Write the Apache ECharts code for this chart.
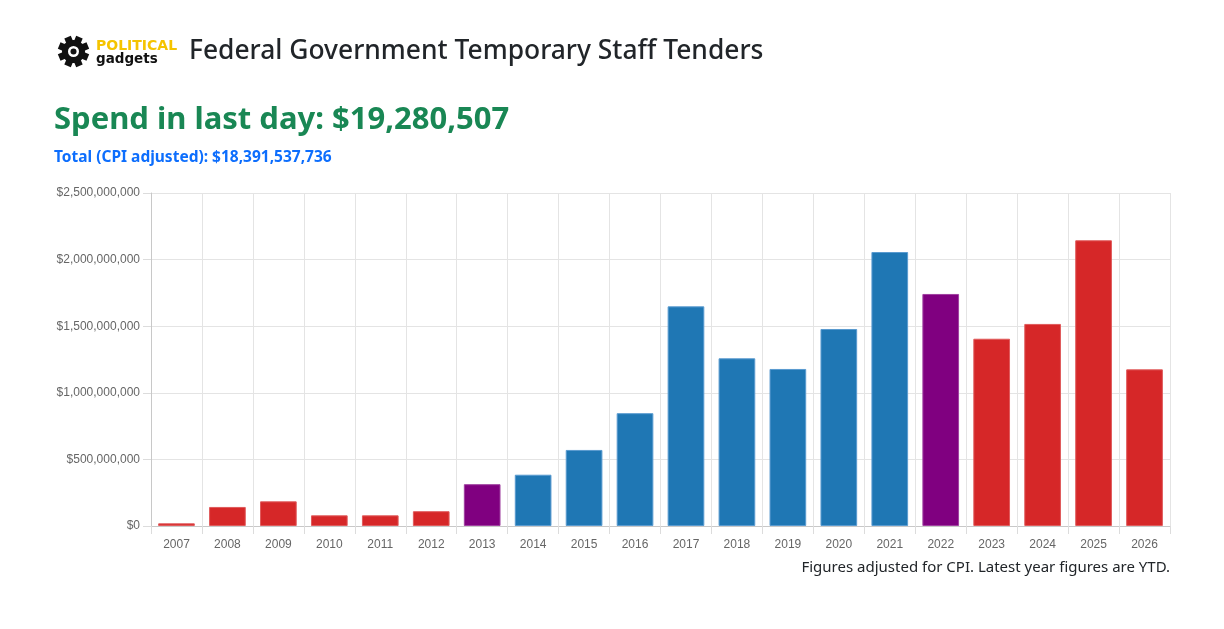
<!DOCTYPE html>
<html>
<head>
<meta charset="utf-8">
<script src="https://cdn.jsdelivr.net/npm/echarts@6/dist/echarts.min.js"></script>
<style>
html,body{margin:0;padding:0;background:#fff;}
#chart{width:1224px;height:629px;}
</style>
</head>
<body>
<div id="chart"></div>
<script>
const years = ['2007','2008','2009','2010','2011','2012','2013','2014','2015','2016','2017','2018','2019','2020','2021','2022','2023','2024','2025','2026'];
const spend = [20000000,143000000,185000000,80000000,80000000,111000000,314000000,385000000,571000000,847000000,1649000000,1259000000,1179000000,1479000000,2057000000,1742000000,1406000000,1517000000,2145000000,1176000000];
const party = ['R','R','R','R','R','R','T','L','L','L','L','L','L','L','L','T','R','R','R','R'];
const yTicks = [0,500000000,1000000000,1500000000,2000000000,2500000000];

const fills = {R:'#d62728', L:'#1f77b4', T:'#800080'};
const borders = {R:'#e05a5b', L:'#5a9bd0', T:'#a040a0'};

function money(v){ return '$' + Math.round(v).toLocaleString('en-US'); }

const chart = echarts.init(document.getElementById('chart'), null, {renderer:'canvas'});

const teeth = [];
for (let i = 0; i < 8; i++) {
  teeth.push({
    type:'rect', x:-3.5, y:-15.5, shape:{x:0,y:0,width:7,height:7},
    originX:3.5, originY:15.5, rotation: i*Math.PI/4 + Math.PI/8,
    style:{fill:'#111'}
  });
}

chart.setOption({
  animation:false,
  grid:{left:151, right:54, top:193, bottom:103, containLabel:false},
  xAxis:{
    type:'category', data:years, boundaryGap:true,
    axisLine:{lineStyle:{color:'#c8c8c8'}},
    axisTick:{show:true, length:8, lineStyle:{color:'#dcdcdc'}},
    splitLine:{show:true, lineStyle:{color:'#e4e4e4'}},
    axisLabel:{color:'#666', fontFamily:'Liberation Sans, Arial', fontSize:12, margin:13}
  },
  yAxis:{
    type:'value', min:yTicks[0], max:yTicks[yTicks.length-1], interval:yTicks[1]-yTicks[0],
    axisLine:{show:true, lineStyle:{color:'#c8c8c8'}},
    axisTick:{show:true, length:8, lineStyle:{color:'#dcdcdc'}},
    splitLine:{show:true, lineStyle:{color:'#e4e4e4'}},
    axisLabel:{color:'#666', fontFamily:'Liberation Sans, Arial', fontSize:12, margin:11, formatter:money}
  },
  series:[{
    type:'bar', barWidth:'72%',
    data: spend.map((v,i)=>({value:v, itemStyle:{color:fills[party[i]], borderColor:borders[party[i]], borderWidth:1}}))
  }],
  graphic:[
    {type:'group', x:73.5, y:51.5, children: teeth.concat([
      {type:'circle', shape:{cx:0,cy:0,r:11.5}, style:{fill:'#111'}},
      {type:'circle', shape:{cx:0,cy:0,r:5.5}, style:{fill:'#fff'}},
      {type:'circle', shape:{cx:0,cy:0,r:3}, style:{fill:'#111'}}
    ])},
    {type:'text', left:96, top:39, style:{text:'POLITICAL', fill:'#f5c400', font:'bold 14px "DejaVu Sans", sans-serif'}},
    {type:'text', left:96, top:52, style:{text:'gadgets', fill:'#111', font:'bold 13.5px "DejaVu Sans", sans-serif'}},
    {type:'text', left:189, top:38, style:{text:'Federal Government Temporary Staff Tenders', fill:'#212529', font:'500 26.4px "Noto Sans", "Open Sans", sans-serif'}},
    {type:'text', left:54, top:105, style:{text:'Spend in last day: $19,280,507', fill:'#198754', font:'bold 31px "Noto Sans", "Open Sans", sans-serif'}},
    {type:'text', left:54, top:150, style:{text:'Total (CPI adjusted): $18,391,537,736', fill:'#0d6efd', font:'bold 15.5px "Noto Sans", "Open Sans", sans-serif'}},
    {type:'text', right:54, top:560, style:{text:'Figures adjusted for CPI. Latest year figures are YTD.', fill:'#212529', font:'15px "Noto Sans", "Open Sans", sans-serif'}}
  ]
});
</script>
</body>
</html>
